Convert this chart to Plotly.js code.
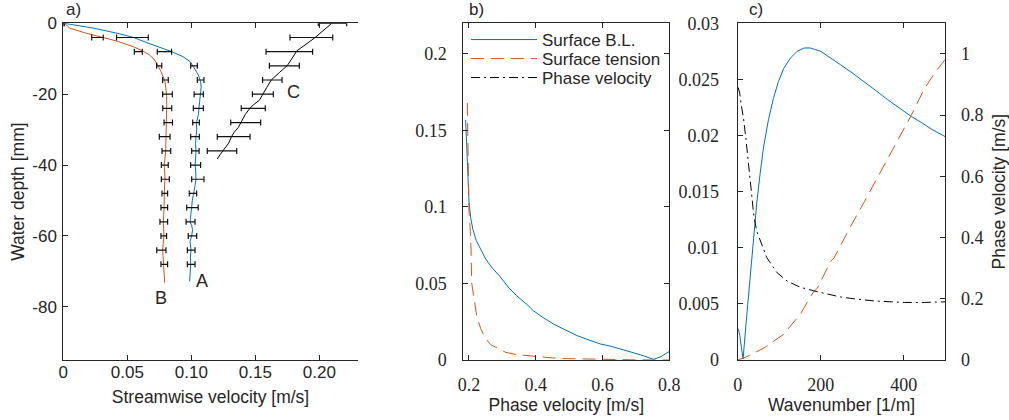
<!DOCTYPE html>
<html><head><meta charset="utf-8">
<script src="https://cdn.plot.ly/plotly-3.0.1.min.js"></script>
<style>html,body{margin:0;padding:0;background:#fff}#chart{width:1009px;height:420px}</style>
</head><body><div id="chart"></div>
<script>
// ---------- Panel a: velocity profiles ----------
const profADepth = [0,-1.4,-2.8,-4.0,-5.3,-6.6,-8.0,-9.4,-10.8,-12.2,-13.4,-14.6,-16.5,-18,-19.3,-21,-23.0,-25.8,-28.2,-30,-32,-34,-36,-38,-40,-42,-44,-46,-48,-50,-51.8,-54,-56,-57,-58.2,-60,-61.5,-63.9,-66,-68,-70.5,-72.8];
const profAVel   = [0.001,0.024,0.042,0.055,0.064,0.074,0.0847,0.0935,0.099,0.1016,0.1038,0.1055,0.1073,0.1077,0.1073,0.1068,0.106,0.1055,0.104,0.1042,0.1037,0.1033,0.1037,0.1032,0.103,0.1035,0.1037,0.1028,0.1016,0.1008,0.1003,0.0995,0.099,0.1002,0.101,0.1003,0.099,0.0998,0.0993,0.0995,0.0991,0.0987];
const profBDepth = [0,-1.4,-2.8,-4.0,-5.0,-6.6,-7.8,-8.9,-10.0,-11.3,-13.6,-16.4,-18,-20.2,-23,-25.8,-28,-30,-32,-34,-36,-38,-40,-42,-44,-46,-48,-50,-52,-54,-56,-58,-60,-62,-64,-66,-68,-70.5,-73.2];
const profBVel   = [0.001,0.0052,0.018,0.031,0.0417,0.0547,0.062,0.0672,0.0705,0.073,0.0763,0.0795,0.0802,0.0807,0.0808,0.0807,0.0805,0.0803,0.0801,0.0802,0.08,0.0795,0.0787,0.0792,0.0795,0.0791,0.0788,0.0789,0.0787,0.0785,0.0781,0.0784,0.0786,0.0781,0.0776,0.078,0.0783,0.0788,0.0792];
const profCDepth = [0,-2.07,-4.05,-5.92,-7.8,-8.74,-9.87,-11.93,-13.9,-15.97,-18.13,-19.92,-21.7,-23.0,-23.95,-25.8,-27.9,-29.4,-30.7,-31.9,-33.8,-35.0,-36.0,-37.1,-38.3];
const profCVel   = [0.2097,0.2031,0.1966,0.1896,0.1823,0.1808,0.1787,0.175,0.1688,0.1625,0.1589,0.1563,0.1532,0.1485,0.1459,0.142,0.1386,0.1367,0.1336,0.1315,0.1292,0.1266,0.1245,0.1224,0.1203];

const barDepthAB = [0,-4,-8,-12,-16,-20,-24,-28,-32,-36,-40,-44,-48,-52,-56,-60,-64,-68];
const barAMean = [0,0.054,0.079,0.1021,0.1073,0.1058,0.1055,0.1037,0.1029,0.1032,0.1034,0.1051,0.1013,0.1009,0.0994,0.1009,0.0999,0.0999];
const barAErr  = [0.0006,0.0124,0.0056,0.0026,0.0026,0.0036,0.0039,0.0026,0.0034,0.0029,0.0039,0.0048,0.0029,0.0045,0.0035,0.0033,0.003,0.003];
const barBMean = [0,0.0267,0.0586,0.0749,0.0798,0.0814,0.0812,0.082,0.0792,0.0805,0.0793,0.0797,0.0793,0.0789,0.0785,0.0785,0.0766,0.0789];
const barBErr  = [0.0006,0.0045,0.0031,0.002,0.0022,0.0038,0.0035,0.0033,0.0042,0.0034,0.0027,0.0031,0.0022,0.0026,0.003,0.0022,0.0036,0.0026];
const barDepthC = [0,-4,-8,-12,-16,-20,-24,-28,-32,-36];
const barCMean = [0.2103,0.1938,0.1766,0.1727,0.1633,0.1559,0.1484,0.1425,0.1331,0.124];
const barCErr  = [0.0111,0.0167,0.0182,0.0117,0.0076,0.0082,0.0094,0.0117,0.0128,0.0115];

// ---------- Panel b: growth rate vs phase velocity ----------
const bBLPhase  = [0.190,0.193,0.196,0.200,0.205,0.212,0.222,0.235,0.250,0.270,0.293,0.320,0.343,0.378,0.393,0.420,0.453,0.490,0.523,0.560,0.593,0.628,0.673,0.715,0.753,0.775,0.800];
const bBLGrowth = [0.157,0.138,0.118,0.104,0.093,0.085,0.078,0.072,0.066,0.060,0.0545,0.047,0.042,0.0354,0.0322,0.028,0.0235,0.0195,0.016,0.013,0.0105,0.0088,0.006,0.0033,0.0004,0.0022,0.0056];
const bSTPhase  = [0.195,0.196,0.197,0.198,0.200,0.203,0.206,0.208,0.213,0.218,0.223,0.235,0.248,0.265,0.288,0.310,0.343,0.398,0.450,0.493,0.593,0.700,0.800];
const bSTGrowth = [0.168,0.150,0.130,0.104,0.097,0.088,0.075,0.0506,0.043,0.036,0.0289,0.0205,0.0147,0.0100,0.0072,0.0050,0.0035,0.0023,0.0014,0.0009,0.0003,0.0001,0.0];

// ---------- Panel c: growth rate / phase velocity vs wavenumber ----------
const cBLk      = [1,5,9,13,20,26,32,39,46,54,62,74,86,98,111,127,143,160,175,200,225,248,275,305,333,361,390,418,445,470,500];
const cBLGrowth = [0.0028,0.0022,0.0011,0.0001,0.0032,0.0058,0.0083,0.0112,0.014,0.0166,0.0189,0.0214,0.0233,0.0248,0.026,0.0269,0.0275,0.0278,0.0278,0.0275,0.0269,0.0263,0.0256,0.0248,0.024,0.0232,0.0224,0.0217,0.0211,0.0205,0.0199];
const cSTk      = [0,22,62,111,151,183,192,224,232,264,272,305,345,385,418,450,475,500];
const cSTGrowth = [0,0.0003,0.00104,0.0023,0.0041,0.0061,0.0064,0.0088,0.0091,0.0114,0.0119,0.0141,0.0168,0.0195,0.0218,0.0242,0.0256,0.0268];
const cPVk      = [1.5,5,9,14,20,26,32,39,46,54,62,70,78,95,119,150,183,215,247,280,328,370,401,450,500];
const cPVvel    = [0.89,0.87,0.83,0.79,0.72,0.64,0.55,0.47,0.42,0.39,0.36,0.335,0.318,0.285,0.258,0.238,0.226,0.215,0.206,0.2,0.193,0.19,0.188,0.188,0.19];

// ---------- Tick labels ----------
const aXTickVals = [0,0.05,0.1,0.15,0.2], aXTickText = ['0','0.05','0.10','0.15','0.20'];
const aYTickVals = [0,-20,-40,-60,-80],  aYTickText = ['0','-20','-40','-60','-80'];
const bXTickVals = [0.2,0.4,0.6,0.8],    bXTickText = ['0.2','0.4','0.6','0.8'];
const bYTickVals = [0,0.05,0.1,0.15,0.2], bYTickText = ['0','0.05','0.1','0.15','0.2'];
const cXTickVals = [0,200,400],          cXTickText = ['0','200','400'];
const cYTickVals = [0,0.005,0.01,0.015,0.02,0.025,0.03], cYTickText = ['0','0.005','0.01','0.015','0.02','0.025','0.03'];
const cY2TickVals = [0,0.2,0.4,0.6,0.8,1], cY2TickText = ['0','0.2','0.4','0.6','0.8','1'];

const sans = 'Liberation Sans';
const serif = 'Liberation Serif';
const ink = '#262626';
const blue = '#0072BD', orange = '#D95319';
const dashST = '13px,7px', dashPV = '9px,4px,2px,4px';

function bars(x, y, err, xa, ya) {
  return {x:x, y:y, xaxis:xa, yaxis:ya, type:'scatter', mode:'markers', showlegend:false, hoverinfo:'skip',
    marker:{size:1, color:'rgba(0,0,0,0)'},
    error_x:{type:'data', array:err, visible:true, color:'#111', thickness:1.2, width:3}};
}

const traces = [
  {x:profAVel, y:profADepth, xaxis:'x', yaxis:'y', mode:'lines', line:{color:blue,width:1}, showlegend:false},
  {x:profBVel, y:profBDepth, xaxis:'x', yaxis:'y', mode:'lines', line:{color:orange,width:1}, showlegend:false},
  {x:profCVel, y:profCDepth, xaxis:'x', yaxis:'y', mode:'lines', line:{color:'#000',width:1}, showlegend:false},
  bars(barAMean, barDepthAB, barAErr, 'x', 'y'),
  bars(barBMean, barDepthAB, barBErr, 'x', 'y'),
  bars(barCMean, barDepthC, barCErr, 'x', 'y'),
  {x:bBLPhase, y:bBLGrowth, xaxis:'x2', yaxis:'y2', mode:'lines', name:'Surface B.L.', legend:'legend', line:{color:blue,width:1}},
  {x:bSTPhase, y:bSTGrowth, xaxis:'x2', yaxis:'y2', mode:'lines', name:'Surface tension', legend:'legend2', line:{color:orange,width:1,dash:dashST}},
  {x:cBLk, y:cBLGrowth, xaxis:'x3', yaxis:'y3', mode:'lines', line:{color:blue,width:1}, showlegend:false},
  {x:cSTk, y:cSTGrowth, xaxis:'x3', yaxis:'y3', mode:'lines', line:{color:orange,width:1,dash:dashST}, showlegend:false},
  {x:cPVk, y:cPVvel, xaxis:'x3', yaxis:'y4', mode:'lines', name:'Phase velocity', legend:'legend3', line:{color:'#000',width:1,dash:dashPV}}
];

function ax(extra) {
  return Object.assign({showline:true, linecolor:ink, linewidth:1, ticks:'inside', ticklen:5, tickwidth:1,
    tickcolor:ink, showgrid:false, zeroline:false, fixedrange:true, tickmode:'array'}, extra);
}
const tfSans = {family:sans, size:17, color:ink};
const tfSerif = {family:serif, size:18, color:ink};
const titleFont = {family:sans, size:17.5, color:ink};
const yDom = [1-360/420, 1-23.3/420];
function leg(rowY) {
  return {x:466/1009, y:1-rowY/420, xanchor:'left', yanchor:'middle', bgcolor:'rgba(0,0,0,0)', borderwidth:0,
    font:{family:sans,size:17,color:ink}, itemwidth:66, tracegroupgap:0};
}

const layout = {
  width:1009, height:420, margin:{l:0,r:0,t:0,b:0}, paper_bgcolor:'#fff', plot_bgcolor:'#fff',
  font:{family:sans, color:ink},
  showlegend:true,
  legend: leg(40), legend2: leg(59), legend3: leg(78),
  xaxis: ax({domain:[63.3/1009, 357.7/1009], anchor:'y', range:[0,0.23], tickvals:aXTickVals, ticktext:aXTickText,
    mirror:'ticks', tickfont:tfSans, ticklabelstandoff:-3,
    title:{text:'Streamwise velocity [m/s]', font:titleFont, standoff:9}}),
  yaxis: ax({domain:yDom, anchor:'x', range:[-95,0], tickvals:aYTickVals, ticktext:aYTickText,
    tickfont:tfSans, ticklabelstandoff:2,
    title:{text:'Water depth [mm]', font:titleFont, standoff:3}}),
  xaxis2: ax({domain:[463.3/1009, 669.3/1009], anchor:'y2', range:[0.183,0.8], tickvals:bXTickVals, ticktext:bXTickText,
    mirror:'ticks', tickfont:tfSerif, ticklabelstandoff:8,
    title:{text:'Phase velocity [m/s]', font:titleFont, standoff:4}}),
  yaxis2: ax({domain:yDom, anchor:'x2', range:[0,0.22], tickvals:bYTickVals, ticktext:bYTickText,
    mirror:'ticks', tickfont:tfSerif, ticklabelstandoff:12}),
  xaxis3: ax({domain:[737.7/1009, 945.3/1009], anchor:'y3', range:[0,500], tickvals:cXTickVals, ticktext:cXTickText,
    mirror:'ticks', tickfont:tfSerif, ticklabelstandoff:8,
    title:{text:'Wavenumber [1/m]', font:titleFont, standoff:4}}),
  yaxis3: ax({domain:yDom, anchor:'x3', range:[0,0.03], tickvals:cYTickVals, ticktext:cYTickText,
    tickfont:tfSerif, ticklabelstandoff:14}),
  yaxis4: ax({domain:yDom, anchor:'x3', overlaying:'y3', side:'right', range:[0,1.1], tickvals:cY2TickVals, ticktext:cY2TickText,
    tickfont:tfSerif, ticklabelstandoff:11,
    title:{text:'Phase velocity [m/s]', font:titleFont, standoff:14}}),
  annotations:[
    {xref:'paper', yref:'paper', x:64/1009, y:1-9/420, xanchor:'left', yanchor:'middle', text:'a)', showarrow:false, font:{family:sans,size:17,color:ink}},
    {xref:'paper', yref:'paper', x:467/1009, y:1-9/420, xanchor:'left', yanchor:'middle', text:'b)', showarrow:false, font:{family:sans,size:17,color:ink}},
    {xref:'paper', yref:'paper', x:747/1009, y:1-9/420, xanchor:'left', yanchor:'middle', text:'c)', showarrow:false, font:{family:sans,size:17,color:ink}},
    {xref:'x', yref:'y', x:0.1085, y:-72.6, xanchor:'center', yanchor:'middle', text:'A', showarrow:false, font:{family:sans,size:18,color:ink}},
    {xref:'x', yref:'y', x:0.0765, y:-77.6, xanchor:'center', yanchor:'middle', text:'B', showarrow:false, font:{family:sans,size:18,color:ink}},
    {xref:'x', yref:'y', x:0.1797, y:-19.5, xanchor:'center', yanchor:'middle', text:'C', showarrow:false, font:{family:sans,size:18,color:ink}}
  ]
};

Plotly.newPlot('chart', traces, layout, {staticPlot:true, displayModeBar:false});
</script></body></html>
